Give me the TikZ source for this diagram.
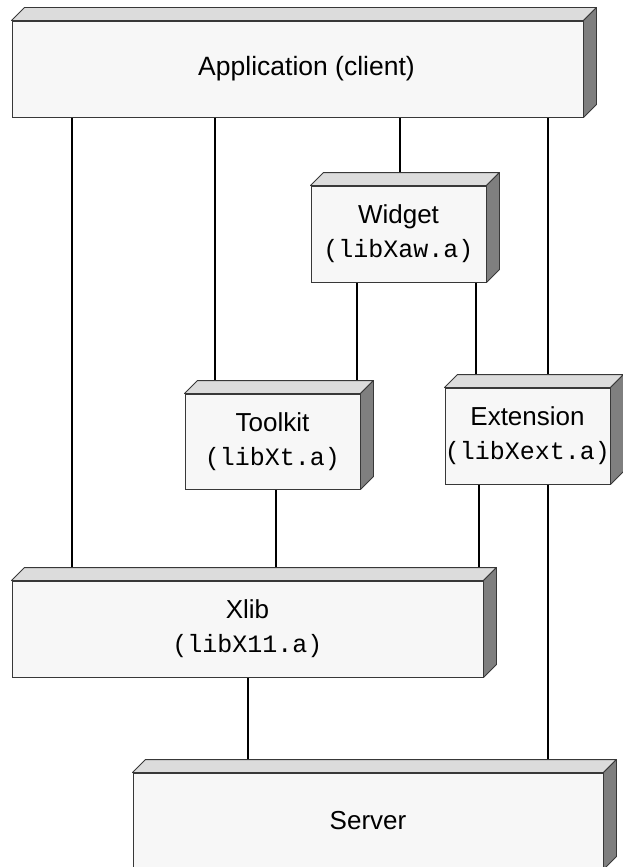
\documentclass[tikz,border=0pt]{standalone}
\usepackage{fontspec}
\setmainfont{Liberation Sans}
\setmonofont{Liberation Mono}
\usetikzlibrary{backgrounds}

\definecolor{faceFront}{HTML}{F7F7F7}
\definecolor{faceTop}{HTML}{DCDCDC}
\definecolor{faceSide}{HTML}{7F7F7F}
\definecolor{edgeGray}{HTML}{383838}

\tikzset{
  slab/.style={draw=edgeGray, line width=0.9pt, fill=faceFront, inner sep=0pt,
    align=center, font=\fontsize{26}{34}\selectfont},
  topface/.style={draw=edgeGray, line width=0.9pt, fill=faceTop, line join=round},
  sideface/.style={draw=edgeGray, line width=0.9pt, fill=faceSide, line join=round},
  wire/.style={draw=black, line width=2pt},
}

% top and right faces that give a slab its depth
\newcommand\slabfaces[1]{%
  \filldraw[topface] (#1.north west) -- ++(13,-13)
    -- ([shift={(13,-13)}]#1.north east) -- (#1.north east) -- cycle;
  \filldraw[sideface] (#1.north east) -- ++(13,-13)
    -- ([shift={(13,-13)}]#1.south east) -- (#1.south east) -- cycle;
}
\newcommand\libname[1]{{\ttfamily\fontsize{25}{34}\selectfont #1}}

\begin{document}
\begin{tikzpicture}[x=1pt, y=-1pt]
  \useasboundingbox (0,0) rectangle (623,867);
  \clip (0,0) rectangle (623,867);

  \node[slab, minimum width=571pt, minimum height=96pt] (app) at (297.5,69) {};
  \slabfaces{app}
  \node[font=\fontsize{26.5}{34}\selectfont] (apptext) at ([xshift=9pt]app.center)
    {Application (client)};

  \node[slab, minimum width=175pt, minimum height=96pt] (widget) at (398.5,234)
    {Widget\\\libname{(libXaw.a)}};
  \slabfaces{widget}

  \node[slab, minimum width=175pt, minimum height=95pt] (toolkit) at (272.5,441.5)
    {Toolkit\\\libname{(libXt.a)}};
  \slabfaces{toolkit}

  \node[slab, minimum width=161pt, minimum height=96pt] (ext) at (527.5,436)
    {Extension\\\libname{(libXext.a)}};
  \slabfaces{ext}

  \node[slab, minimum width=471pt, minimum height=96pt] (xlib) at (247.5,629)
    {Xlib\\\libname{(libX11.a)}};
  \slabfaces{xlib}

  \node[slab, minimum width=470pt, minimum height=96pt] (server) at (368,821)
    {Server};
  \slabfaces{server}

  \begin{scope}[on background layer]
    \draw[wire] (app.south -| 72,0)     -- (xlib.north -| 72,0);
    \draw[wire] (app.south -| 215,0)    -- (toolkit.north -| 215,0);
    \draw[wire] (app.south -| 400,0)    -- (widget.north -| 400,0);
    \draw[wire] (app.south -| 548,0)    -- (server.north -| 548,0);
    \draw[wire] (widget.south -| 357,0) -- (toolkit.north -| 357,0);
    \draw[wire] (widget.south -| 476,0) -- (ext.north -| 476,0);
    \draw[wire] (toolkit.south -| 276,0) -- (xlib.north -| 276,0);
    \draw[wire] (ext.south -| 479,0)    -- (xlib.north -| 479,0);
    \draw[wire] (xlib.south -| 248,0)   -- (server.north -| 248,0);
  \end{scope}
\end{tikzpicture}
\end{document}
